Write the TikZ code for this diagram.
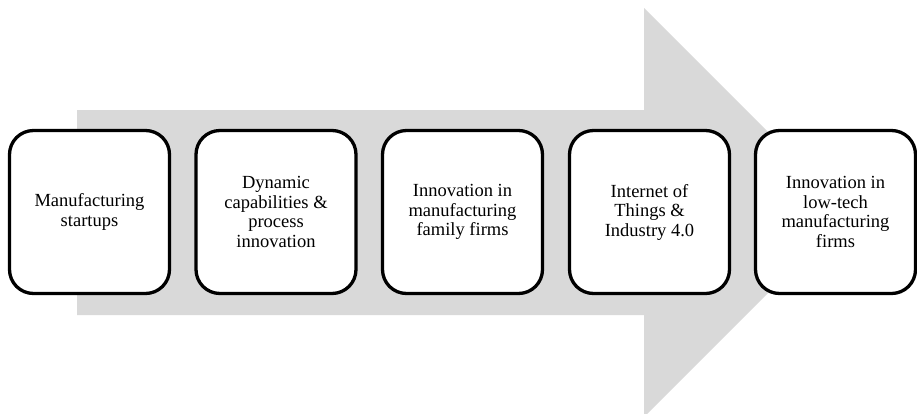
\documentclass[tikz,border=0pt]{standalone}
\usepackage{fontspec}
\setmainfont{Liberation Serif}
\definecolor{arrowgray}{HTML}{D9D9D9}
\tikzset{
  stagebox/.style={draw=black, line width=3.3pt, fill=white, rounded corners=24pt,
    minimum width=160pt, minimum height=163pt, align=center, inner sep=0pt,
    font=\fontsize{18.5pt}{19.5pt}\selectfont},
  bigarrow/.style={fill=arrowgray, draw=none}
}
\begin{document}
\begin{tikzpicture}[x=1pt,y=-1pt]
\useasboundingbox (0,0) rectangle (917,413);
\begin{scope}
\clip (0,0) rectangle (917,413);
\fill[bigarrow] (77,110) -- (644,110) -- (644,8) -- (848.5,212.5) -- (644,417) -- (644,315) -- (77,315) -- cycle;
\end{scope}
\node[stagebox] (b1) at (89.5,212) {Manufacturing\\startups};
\node[stagebox] (b2) at (276,212) {Dynamic\\capabilities \&\\process\\innovation};
\node[stagebox] (b3) at (462.5,212) {Innovation in\\manufacturing\\family firms};
\node[stagebox] (b4) at (649.5,212) {Internet of\\Things \&\\Industry 4.0};
\node[stagebox] (b5) at (835.5,212) {Innovation in\\low-tech\\manufacturing\\firms};
\end{tikzpicture}
\end{document}
